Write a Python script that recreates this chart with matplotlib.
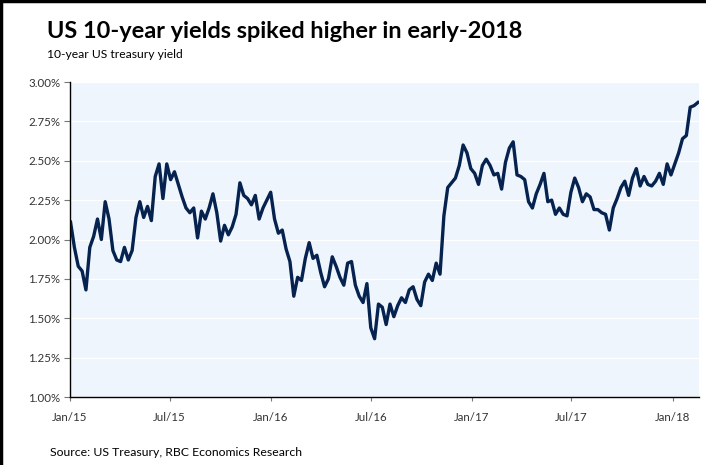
import numpy as np
import pandas as pd
import matplotlib
matplotlib.use("Agg")
import matplotlib.pyplot as plt
import matplotlib.dates as mdates
from matplotlib.lines import Line2D
from matplotlib.ticker import FuncFormatter

plt.rcParams['font.family'] = ['Lato', 'DejaVu Sans']

# Weekly (Friday) US 10-year treasury yield, %
y2015 = [2.11, 1.95, 1.83, 1.80, 1.68,
         1.95, 2.02, 2.13, 2.00,
         2.24, 2.13, 1.93, 1.87,
         1.86, 1.95, 1.87, 1.93,
         2.14, 2.24, 2.14, 2.21, 2.12,
         2.40, 2.48, 2.26, 2.48,
         2.38, 2.43, 2.35, 2.27, 2.20,
         2.17, 2.20, 2.01, 2.18,
         2.13, 2.20, 2.29, 2.17,
         1.99, 2.09, 2.03, 2.08, 2.16,
         2.36, 2.28, 2.26, 2.22,
         2.28, 2.13, 2.20, 2.25]
y2016 = [2.30, 2.13, 2.04, 2.06, 1.94,
         1.86, 1.64, 1.76, 1.74,
         1.88, 1.98, 1.88, 1.90,
         1.79, 1.70, 1.75, 1.89, 1.83,
         1.76, 1.71, 1.85, 1.86,
         1.71, 1.64, 1.60, 1.72,
         1.44, 1.37, 1.59, 1.57, 1.46,
         1.59, 1.51, 1.58, 1.63,
         1.60, 1.68, 1.70, 1.62, 1.58,
         1.73, 1.78, 1.74, 1.85,
         1.78, 2.15, 2.33, 2.36,
         2.39, 2.47, 2.60, 2.55, 2.45]
y2017 = [2.42, 2.35, 2.47, 2.51,
         2.47, 2.41, 2.42, 2.32,
         2.49, 2.58, 2.62, 2.41, 2.40,
         2.38, 2.24, 2.20, 2.29,
         2.35, 2.42, 2.24, 2.25,
         2.16, 2.20, 2.16, 2.15, 2.30,
         2.39, 2.33, 2.24, 2.29,
         2.27, 2.19, 2.19, 2.17,
         2.16, 2.06, 2.20, 2.26, 2.33,
         2.37, 2.28, 2.39, 2.45,
         2.34, 2.40, 2.35, 2.34,
         2.37, 2.42, 2.35, 2.48, 2.41]
y2018 = [2.48, 2.55, 2.64, 2.66, 2.84, 2.85, 2.87]

yields = y2015 + y2016 + y2017 + y2018
dates = pd.date_range(start='2015-01-02', periods=len(yields), freq='W-FRI')

fig = plt.figure(figsize=(7.06, 4.65), dpi=100)
ax = fig.add_axes([70 / 706, 1 - 397 / 465, 629 / 706, 315 / 465])

ax.set_facecolor('#eef5fd')
ax.plot(dates, yields, color='#06224f', linewidth=2.4, solid_joinstyle='round')

ax.set_ylim(1.0, 3.0)
ax.set_yticks(np.arange(1.0, 3.01, 0.25))
ax.yaxis.set_major_formatter(FuncFormatter(lambda v, p: f'{v:.2f}%'))
ax.grid(axis='y', color='white', linewidth=1.0)
ax.set_axisbelow(True)

ax.set_xlim(pd.Timestamp('2015-01-01'), pd.Timestamp('2018-02-18'))
ax.set_xticks(pd.to_datetime(['2015-01-01', '2015-07-01', '2016-01-01', '2016-07-01',
                              '2017-01-01', '2017-07-01', '2018-01-01']))
ax.xaxis.set_major_formatter(mdates.DateFormatter('%b/%y'))

for s in ['top', 'right']:
    ax.spines[s].set_visible(False)
for s in ['left', 'bottom']:
    ax.spines[s].set_color('black')
    ax.spines[s].set_linewidth(1.0)

ax.tick_params(axis='y', length=4, color='#777777', labelsize=8.3, labelcolor='#333333', pad=3)
ax.tick_params(axis='x', length=3, color='#777777', labelsize=8.3, labelcolor='#333333', pad=8)

fig.text(47 / 706, 1 - 32 / 465, 'US 10-year yields spiked higher in early-2018',
         fontsize=16.9, fontweight='bold', color='black', va='center')
fig.text(47 / 706, 1 - 54 / 465, '10-year US treasury yield',
         fontsize=8.7, color='black', va='center')
fig.text(50 / 706, 1 - 452 / 465, 'Source: US Treasury, RBC Economics Research',
         fontsize=8.8, color='black', va='center')

# black frame on top and left edge of the image
fig.add_artist(Line2D([0, 1], [0.997, 0.997], transform=fig.transFigure, color='black', linewidth=2.5))
fig.add_artist(Line2D([0.002, 0.002], [0, 1], transform=fig.transFigure, color='black', linewidth=2.5))

fig.savefig('out.png', dpi=100)
